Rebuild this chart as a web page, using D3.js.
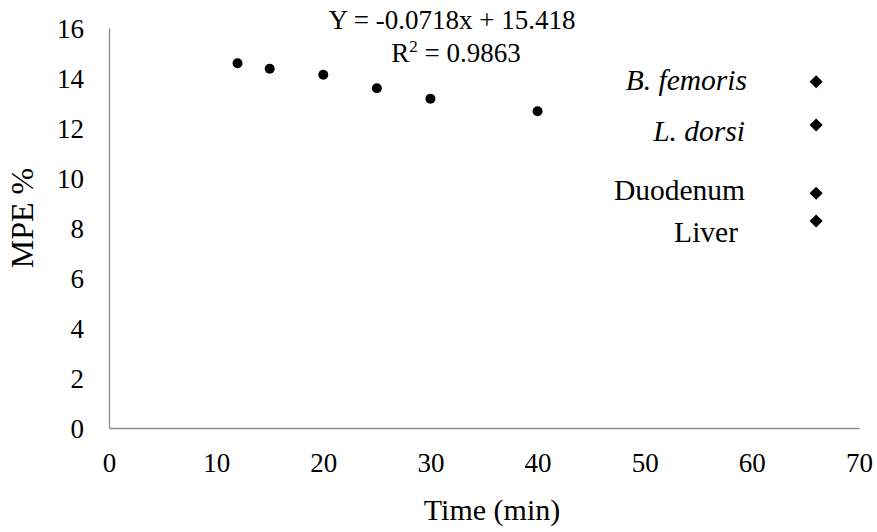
<!DOCTYPE html>
<html>
<head>
<meta charset="utf-8">
<script src="https://cdn.jsdelivr.net/npm/d3@7"></script>
<style>
  html, body { margin: 0; padding: 0; background: #fff; }
  svg text { font-family: "Liberation Serif", "Times New Roman", serif; fill: #000; }
</style>
</head>
<body>
<svg id="chart" width="877" height="532"></svg>
<script>
// Enrichment over time (regression series)
const times = [12, 15, 20, 25, 30, 40];
const mpe = [14.59, 14.37, 14.13, 13.59, 13.17, 12.67];

// Tissue values shown at the 66 min sampling point
const tissues = ["B. femoris", "L. dorsi", "Duodenum", "Liver"];
const tissueItalic = [true, true, false, false];
const tissueTime = [66, 66, 66, 66];
const tissueMpe = [13.85, 12.12, 9.39, 8.28];

const xTicks = [0, 10, 20, 30, 40, 50, 60, 70];
const yTicks = [0, 2, 4, 6, 8, 10, 12, 14, 16];

const equationText = "Y = -0.0718x + 15.418";
const r2Value = "0.9863";

const svg = d3.select("#chart");
const x = d3.scaleLinear().domain([0, 70]).range([109, 859]);
const y = d3.scaleLinear().domain([0, 16]).range([428, 28]);

// Axes: plain gray lines, no tick marks
const xAxis = d3.axisBottom(x).tickValues(xTicks).tickSize(0).tickPadding(25);
const yAxis = d3.axisLeft(y).tickValues(yTicks).tickSize(0).tickPadding(25);

const gx = svg.append("g").attr("transform", `translate(0,${y(0)})`).call(xAxis);
const gy = svg.append("g").attr("transform", `translate(${x(0)},0)`).call(yAxis);
[gx, gy].forEach(g => {
  g.attr("font-family", null);
  g.select(".domain").attr("stroke", "#8c8c8c").attr("stroke-width", 1.3);
  g.selectAll("text").attr("font-size", 27).attr("fill", "#000");
});
gx.selectAll("text").attr("dy", "0.7em");
gy.selectAll("text").attr("dy", "0.34em");

// Axis titles
svg.append("text")
  .attr("x", 492).attr("y", 520)
  .attr("text-anchor", "middle")
  .attr("font-size", 30)
  .text("Time (min)");

svg.append("text")
  .attr("transform", "translate(33,218) rotate(-90)")
  .attr("text-anchor", "middle")
  .attr("font-size", 32)
  .text("MPE %");

// Regression points
svg.append("g").selectAll("circle")
  .data(times.map((t, i) => ({ t, v: mpe[i] })))
  .join("circle")
  .attr("cx", d => x(d.t))
  .attr("cy", d => y(d.v))
  .attr("r", 5)
  .attr("fill", "#000");

// Tissue points (diamonds)
const diamond = d3.symbol().type(d3.symbolDiamond2).size(110);
svg.append("g").selectAll("path")
  .data(tissues.map((n, i) => ({ n, t: tissueTime[i], v: tissueMpe[i] })))
  .join("path")
  .attr("d", diamond)
  .attr("transform", d => `translate(${x(d.t)},${y(d.v)})`)
  .attr("fill", "#000");

// Tissue labels
const labelRight = [747, 745, 745, 738];
const labelBase = [90, 141, 200, 242];
svg.append("g").selectAll("text")
  .data(tissues)
  .join("text")
  .attr("x", (d, i) => labelRight[i])
  .attr("y", (d, i) => labelBase[i])
  .attr("text-anchor", "end")
  .attr("font-size", 29.5)
  .attr("font-style", (d, i) => tissueItalic[i] ? "italic" : "normal")
  .text(d => d);

// Regression equation
svg.append("text")
  .attr("x", 452).attr("y", 29)
  .attr("text-anchor", "middle")
  .attr("font-size", 27)
  .text(equationText);

const r2 = svg.append("text")
  .attr("x", 456).attr("y", 62)
  .attr("text-anchor", "middle")
  .attr("font-size", 27);
r2.append("tspan").text("R");
r2.append("tspan").attr("font-size", 17).attr("dy", -10).text("2");
r2.append("tspan").attr("dy", 10).text(" = " + r2Value);
</script>
</body>
</html>
